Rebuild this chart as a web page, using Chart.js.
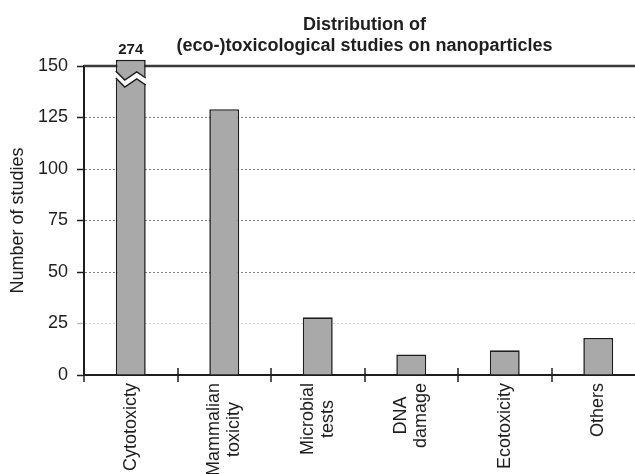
<!DOCTYPE html>
<html>
<head>
<meta charset="utf-8">
<script src="https://cdn.jsdelivr.net/npm/chart.js@4.4.1/dist/chart.umd.min.js"></script>
<style>
  html, body { margin: 0; padding: 0; overflow: hidden; background: #fff; }
  canvas { display: block; }
</style>
</head>
<body>
<canvas id="studiesChart" width="645" height="474"></canvas>
<script>
// values
const categories = ['Cytotoxicty', ['Mammalian', 'toxicity'], ['Microbial', 'tests'], ['DNA', 'damage'], 'Ecotoxicity', 'Others'];
const studies = [274, 129, 28, 10, 12, 18];
const yTicks = [0, 25, 50, 75, 100, 125, 150];
const breakCap = 153; // bars above the axis top are cut here and get a break mark
const titleLines = ['Distribution of', '(eco-)toxicological studies on nanoparticles'];

const FONT = "'Liberation Sans', Arial, sans-serif";
const INK = '#1e1e1e';

const decor = {
    id: 'decor',
    beforeDatasetsDraw(chart) {
        // solid top line at the last tick
        const { ctx, chartArea, scales: { y } } = chart;
        const yTop = y.getPixelForValue(yTicks[yTicks.length - 1]);
        ctx.save();
        ctx.strokeStyle = '#3a3a3a';
        ctx.lineWidth = 2.5;
        ctx.beginPath();
        ctx.moveTo(chartArea.left, yTop);
        ctx.lineTo(chartArea.right, yTop);
        ctx.stroke();
        ctx.restore();
    },
    afterDatasetsDraw(chart) {
        const { ctx, scales: { y } } = chart;
        const meta = chart.getDatasetMeta(0);
        const y0 = y.getPixelForValue(yTicks[yTicks.length - 1]);
        studies.forEach((v, i) => {
            if (v <= breakCap) return;
            const el = meta.data[i];
            const { x, width } = el.getProps(['x', 'width'], true);
            const l = x - width / 2 - 1, r = x + width / 2 + 1;
            const upper = [[l, y0 + 5], [x - 6, y0 + 14], [x + 6, y0 + 6], [r, y0 + 12]];
            const lower = upper.map(p => [p[0], p[1] + 7]);
            ctx.save();
            ctx.fillStyle = '#fff';
            ctx.beginPath();
            upper.forEach((p, k) => k ? ctx.lineTo(p[0], p[1]) : ctx.moveTo(p[0], p[1]));
            lower.slice().reverse().forEach(p => ctx.lineTo(p[0], p[1]));
            ctx.closePath();
            ctx.fill();
            ctx.strokeStyle = INK;
            ctx.lineWidth = 1.5;
            [upper, lower].forEach(line => {
                ctx.beginPath();
                line.forEach((p, k) => k ? ctx.lineTo(p[0] + (k === line.length - 1 ? -1 : 0), p[1]) : ctx.moveTo(p[0] + 1, p[1]));
                ctx.stroke();
            });
            // real value above the broken bar
            ctx.fillStyle = INK;
            ctx.font = 'bold 15px ' + FONT;
            ctx.textAlign = 'center';
            ctx.textBaseline = 'alphabetic';
            ctx.fillText(String(v), x, el.y - 6);
            ctx.restore();
        });
    },
    afterDraw(chart) {
        const { ctx, chartArea, scales: { x } } = chart;
        ctx.save();
        // title, centred over the plot area
        ctx.fillStyle = INK;
        ctx.font = 'bold 18px ' + FONT;
        ctx.textAlign = 'center';
        ctx.textBaseline = 'alphabetic';
        const cx = (chartArea.left + chartArea.right) / 2;
        ctx.fillText(titleLines[0], cx, chartArea.top - 36);
        ctx.fillText(titleLines[1], cx, chartArea.top - 15);

        // cross ticks between categories
        const step = x.getPixelForValue(1) - x.getPixelForValue(0);
        ctx.strokeStyle = INK;
        ctx.lineWidth = 1.5;
        for (let i = 0; i <= categories.length; i++) {
            const xb = Math.round(x.getPixelForValue(0) - step / 2 + i * step);
            ctx.beginPath();
            ctx.moveTo(xb, chartArea.bottom - 7);
            ctx.lineTo(xb, chartArea.bottom + 7);
            ctx.stroke();
        }

        // rotated category labels, lines centred on each other
        ctx.font = '18px ' + FONT;
        ctx.textBaseline = 'middle';
        categories.forEach((lab, i) => {
            const lines = Array.isArray(lab) ? lab : [lab];
            const maxW = Math.max(...lines.map(t => ctx.measureText(t).width));
            ctx.save();
            ctx.translate(x.getPixelForValue(i), chartArea.bottom + 8);
            ctx.rotate(-Math.PI / 2);
            lines.forEach((t, k) => {
                ctx.fillText(t, -maxW / 2, (k - (lines.length - 1) / 2) * 20);
            });
            ctx.restore();
        });
        ctx.restore();
    }
};

const ctx = document.getElementById('studiesChart').getContext('2d');
new Chart(ctx, {
    type: 'bar',
    data: {
        labels: categories,
        datasets: [{
            data: studies.map(v => Math.min(v, breakCap)),
            backgroundColor: '#a9a9a9',
            borderColor: INK,
            borderWidth: 1.6,
            categoryPercentage: 1,
            barPercentage: 0.32,
            clip: false
        }]
    },
    options: {
        responsive: false,
        animation: false,
        devicePixelRatio: 1,
        layout: { padding: { top: 66, left: 0, right: 0, bottom: 0 } },
        plugins: {
            legend: { display: false },
            tooltip: { enabled: false },
            title: { display: false }
        },
        scales: {
            x: {
                offset: true,
                grid: { display: false },
                border: { display: true, color: INK, width: 2 },
                ticks: { display: false },
                afterFit(s) { s.height = 99; }
            },
            y: {
                min: 0,
                max: 150,
                afterBuildTicks(s) { s.ticks = yTicks.map(v => ({ value: v })); },
                ticks: {
                    color: INK,
                    padding: 9,
                    font: { family: FONT, size: 18 }
                },
                grid: {
                    lineWidth: 1,
                    tickLength: 7,
                    tickWidth: 1.5,
                    color: c => {
                        const v = c.tick ? c.tick.value : null;
                        if (v === 0 || v === 150) return 'rgba(0,0,0,0)';
                        return v === 25 ? '#d4d4d4' : '#808080';
                    },
                    tickColor: c => (c.tick && c.tick.value === 25) ? '#bdbdbd' : INK
                },
                border: { display: true, color: INK, width: 2, dash: [2, 2] },
                title: {
                    display: true,
                    text: 'Number of studies',
                    color: INK,
                    font: { family: FONT, size: 18 },
                    padding: { top: 7, bottom: 0 }
                },
                afterFit(s) { s.width = 84; }
            }
        }
    },
    plugins: [decor]
});
</script>
</body>
</html>
